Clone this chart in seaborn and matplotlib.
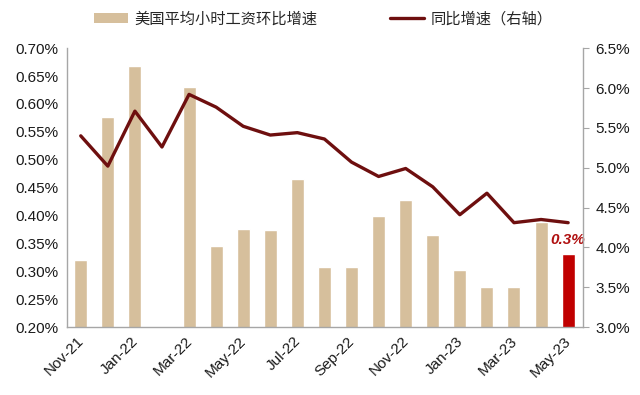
import matplotlib
matplotlib.use("Agg")
import matplotlib.pyplot as plt
import numpy as np
import pandas as pd
import seaborn as sns
from matplotlib.ticker import FuncFormatter, FixedLocator
from matplotlib.patches import Patch
from matplotlib.lines import Line2D

months = ["Nov-21", "Dec-21", "Jan-22", "Feb-22", "Mar-22", "Apr-22", "May-22",
          "Jun-22", "Jul-22", "Aug-22", "Sep-22", "Oct-22", "Nov-22", "Dec-22",
          "Jan-23", "Feb-23", "Mar-23", "Apr-23", "May-23"]
mom = [0.320, 0.576, 0.668, 0.200, 0.631, 0.345, 0.375, 0.374, 0.465, 0.308,
       0.308, 0.399, 0.428, 0.365, 0.303, 0.272, 0.271, 0.388, 0.331]
yoy = [5.40, 5.02, 5.71, 5.26, 5.92, 5.76, 5.52, 5.41, 5.44, 5.36,
       5.07, 4.89, 4.99, 4.76, 4.41, 4.68, 4.31, 4.35, 4.31]
shown_labels = ["Nov-21", "Jan-22", "Mar-22", "May-22", "Jul-22", "Sep-22",
                "Nov-22", "Jan-23", "Mar-23", "May-23"]

TAN = "#D6BF9C"
RED = "#C00000"
LINE = "#6E0F0F"
GREY = "#A6A6A6"

sns.set_theme(style="white")
plt.rcParams["font.family"] = ["Liberation Sans", "Noto Sans CJK SC"]
plt.rcParams["axes.unicode_minus"] = False

df = pd.DataFrame({"month": months, "mom": mom, "yoy": yoy})
df["pos"] = np.arange(len(df))
colors = [TAN] * (len(df) - 1) + [RED]

fig = plt.figure(figsize=(6.4, 3.95), dpi=100)
ax = fig.add_axes([0.105, 0.172, 0.806, 0.706])

sns.barplot(data=df, x="month", y="mom", hue="month", palette=colors,
            legend=False, width=0.48, ax=ax, saturation=1)
ax.set_ylim(0.20, 0.70)
ax.set_xlim(-0.5, len(df) - 0.45)
ax.set_yticks(np.arange(0.20, 0.7001, 0.05))
ax.yaxis.set_major_formatter(FuncFormatter(lambda v, p: f"{v:.2f}%"))
ax.set_xlabel("")
ax.set_ylabel("")

# x ticks between categories, labels on every other month
ax.xaxis.set_major_locator(FixedLocator(np.arange(-0.5, len(df) - 1, 2)))
ax.xaxis.set_major_formatter(FuncFormatter(lambda v, p: ""))
ax.tick_params(axis="x", which="major", length=4, width=0.8, color=GREY, direction="out")
ax.tick_params(axis="y", length=0, labelsize=11, colors="#1a1a1a", pad=6)
for i, m in enumerate(months):
    if m in shown_labels:
        ax.annotate(m, xy=(i, 0.20), xycoords="data", xytext=(-3, -5),
                    textcoords="offset points", rotation=45, ha="right", va="top",
                    rotation_mode="anchor", fontsize=11, color="#1a1a1a",
                    annotation_clip=False)

for s in ["top", "right"]:
    ax.spines[s].set_visible(False)
for s in ["left", "bottom"]:
    ax.spines[s].set_color(GREY)
    ax.spines[s].set_linewidth(1.0)

ax2 = ax.twinx()
sns.lineplot(x=df["pos"], y=df["yoy"], color=LINE, linewidth=2.4, ax=ax2)
ax2.set_ylim(3.0, 6.5)
ax2.set_yticks(np.arange(3.0, 6.501, 0.5))
ax2.yaxis.set_major_formatter(FuncFormatter(lambda v, p: f"{v:.1f}%"))
ax2.set_xlabel("")
ax2.set_ylabel("")
ax2.tick_params(axis="y", length=4, width=0.8, color=GREY, labelsize=11,
                labelcolor="#1a1a1a", pad=5)
for s in ["top", "left", "bottom"]:
    ax2.spines[s].set_visible(False)
ax2.spines["right"].set_color(GREY)
ax2.spines["right"].set_linewidth(1.0)
ax2.grid(False)
ax.grid(False)

# label on last bar
ax.text(len(df) - 1, mom[-1] + 0.013, f"{mom[-1]:.1f}%", ha="center", va="bottom",
        fontsize=11, fontweight="bold", fontstyle="italic", color="#B01010")

handles = [Patch(facecolor=TAN, edgecolor="none"),
           Line2D([0], [0], color=LINE, linewidth=2.4)]
fig.legend(handles, ["美国平均小时工资环比增速", "同比增速（右轴）"],
           loc="upper center", bbox_to_anchor=(0.505, 1.005), ncol=2, frameon=False,
           fontsize=11, handlelength=2.2, handleheight=0.7, columnspacing=4.75,
           handletextpad=0.45)

fig.savefig("out.png", dpi=100)
